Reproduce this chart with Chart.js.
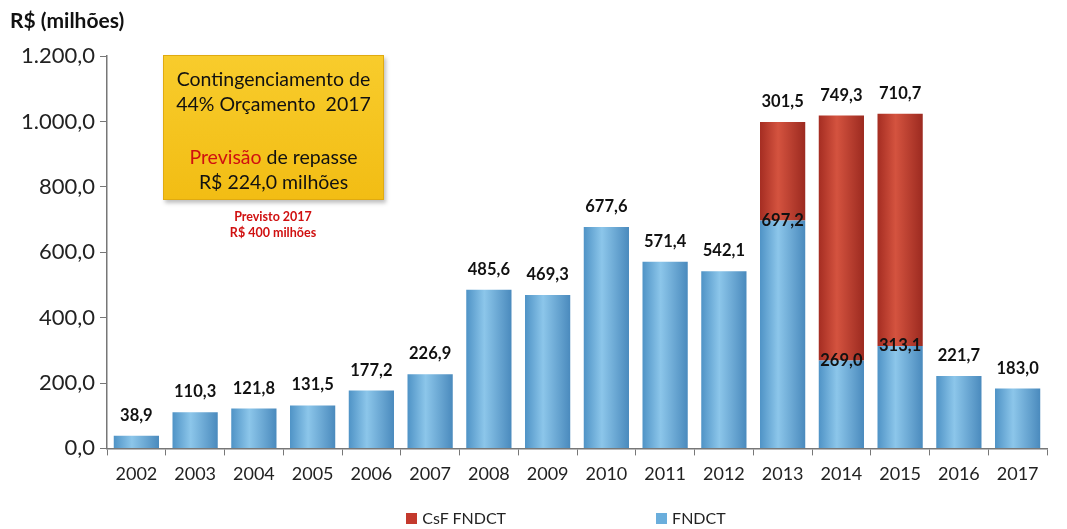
<!DOCTYPE html>
<html lang="pt-BR">
<head>
<meta charset="utf-8">
<script src="https://cdn.jsdelivr.net/npm/chart.js@4.4.1/dist/chart.umd.min.js"></script>
<style>
    body { margin: 0; background: #fff; font-family: Lato, sans-serif; }
    .grafico-container { position: relative; width: 1067px; height: 529px; }
    .caixa-amarela {
        position: absolute; left: 163px; top: 55px; width: 221px; height: 145px;
        background: linear-gradient(#f8cc2c, #f2bd14);
        border: 1px solid #e0aa10;
        box-shadow: 2px 3px 4px rgba(0,0,0,0.25);
        text-align: center; font-size: 19.5px; line-height: 25px; color: #111;
        box-sizing: border-box; padding-top: 10px; white-space: nowrap;
    }
    .caixa-amarela .vermelho { color: #d01010; }
    .previsto {
        position: absolute; left: 198px; top: 209px; width: 150px;
        text-align: center; color: #d01010; font-weight: bold; font-size: 12.5px; line-height: 16px;
    }
    .legenda {
        position: absolute; left: 97px; width: 938px; top: 508px;
        display: flex; justify-content: center; gap: 150px; font-size: 16px; color: #222;
    }
    .legenda span.quadrado { display: inline-block; width: 11px; height: 11px; margin-right: 5px; }
</style>
</head>
<body>
<div class="grafico-container">
    <canvas id="fundoChart" width="1067" height="529"></canvas>
    <div class="caixa-amarela">
        Contingenciamento de<br>44% Orçamento&nbsp; 2017<br><div style="height:28px"></div>
        <span class="vermelho">Previsão</span> de repasse<br>R$ 224,0 milhões
    </div>
    <div class="previsto">Previsto 2017<br>R$ 400 milhões</div>
    <div class="legenda" id="legenda"></div>
</div>
<script>
// Dados do gráfico (R$ milhões)
const anos = ['2002', '2003', '2004', '2005', '2006', '2007', '2008', '2009',
              '2010', '2011', '2012', '2013', '2014', '2015', '2016', '2017'];
const fndctValores = [38.9, 110.3, 121.8, 131.5, 177.2, 226.9, 485.6, 469.3,
                      677.6, 571.4, 542.1, 697.2, 269.0, 313.1, 221.7, 183.0];
const csfValores = [null, null, null, null, null, null, null, null,
                    null, null, null, 301.5, 749.3, 710.7, null, null];
const yTicks = [0, 200, 400, 600, 800, 1000, 1200];

const corAzul = '#6aaedc';
const corVermelha = '#c4392d';

// Formato brasileiro: 1.200,0
function formatar(v) {
    const partes = v.toFixed(1).split('.');
    return partes[0].replace(/\B(?=(\d{3})+(?!\d))/g, '.') + ',' + partes[1];
}

// Gradiente horizontal para dar aspecto de cilindro
function cilindro(cores, corBase) {
    return (c) => {
        const el = c.element;
        if (!el || el.x == null || !el.width) return corBase;
        const x0 = el.x - el.width / 2;
        const g = c.chart.ctx.createLinearGradient(x0, 0, x0 + el.width, 0);
        g.addColorStop(0, cores[0]);
        g.addColorStop(0.4, cores[1]);
        g.addColorStop(1, cores[2]);
        return g;
    };
}

// Rótulos dos valores sobre as barras
const rotulosPlugin = {
    id: 'rotulos',
    afterDatasetsDraw(chart) {
        const ctx = chart.ctx;
        ctx.save();
        ctx.font = 'bold 16.5px Lato';
        ctx.fillStyle = '#111';
        ctx.textAlign = 'center';

        const metaF = chart.getDatasetMeta(0);
        const metaC = chart.getDatasetMeta(1);

        metaF.data.forEach((bar, i) => {
            const temCsf = csfValores[i] != null;
            ctx.textBaseline = temCsf ? 'middle' : 'bottom';
            ctx.fillText(formatar(fndctValores[i]), bar.x, temCsf ? bar.y : bar.y - 12);
        });
        metaC.data.forEach((bar, i) => {
            if (csfValores[i] == null) return;
            ctx.textBaseline = 'bottom';
            ctx.fillText(formatar(csfValores[i]), bar.x, bar.y - 12);
        });
        ctx.restore();
    }
};

const ctx = document.getElementById('fundoChart').getContext('2d');

const fundoChart = new Chart(ctx, {
    type: 'bar',
    data: {
        labels: anos,
        datasets: [
            {
                label: 'FNDCT',
                data: fndctValores,
                backgroundColor: cilindro(['#4f93c6', '#8cc6ea', '#4a8abd'], corAzul),
                borderWidth: 0,
                barPercentage: 0.77,
                categoryPercentage: 1,
            },
            {
                label: 'CsF FNDCT',
                data: csfValores,
                backgroundColor: cilindro(['#a52d22', '#d4533f', '#9c2a20'], corVermelha),
                borderWidth: 0,
                barPercentage: 0.77,
                categoryPercentage: 1,
            },
        ],
    },
    options: {
        responsive: false,
        animation: false,
        layout: { padding: { left: 10, right: 20, bottom: 36 } },
        plugins: {
            legend: { display: false },
            tooltip: { enabled: false },
            title: {
                display: true,
                text: 'R$ (milhões)',
                align: 'start',
                color: '#111',
                font: { family: 'Lato', size: 21, weight: 'bold' },
                padding: { top: 9, bottom: 22 },
            },
        },
        scales: {
            x: {
                stacked: true,
                grid: { display: true, drawOnChartArea: false, offset: true, tickLength: 7, color: '#777' },
                border: { color: '#777', width: 1.5 },
                ticks: { color: '#222', font: { family: 'Lato', size: 18 }, padding: 8 },
            },
            y: {
                stacked: true,
                min: 0,
                max: 1200,
                afterBuildTicks: (axis) => { axis.ticks = yTicks.map(v => ({ value: v })); },
                afterFit: (axis) => { axis.width = 97; },
                grid: { display: true, drawOnChartArea: false, tickLength: 7, color: '#777' },
                border: { color: '#777', width: 1.5 },
                ticks: {
                    color: '#222',
                    font: { family: 'Lato', size: 22 },
                    padding: 5,
                    callback: (v) => formatar(v),
                },
            },
        },
    },
    plugins: [rotulosPlugin],
});
// segunda passada para que o gradiente conheça a posição das barras
fundoChart.update();

// Legenda em HTML (CsF primeiro, como no original)
const legenda = document.getElementById('legenda');
const coresLegenda = [corVermelha, corAzul];
[1, 0].forEach((idx, k) => {
    const ds = fundoChart.data.datasets[idx];
    const item = document.createElement('div');
    item.innerHTML = `<span class="quadrado" style="background:${coresLegenda[k]}"></span>${ds.label}`;
    legenda.appendChild(item);
});
</script>
</body>
</html>
